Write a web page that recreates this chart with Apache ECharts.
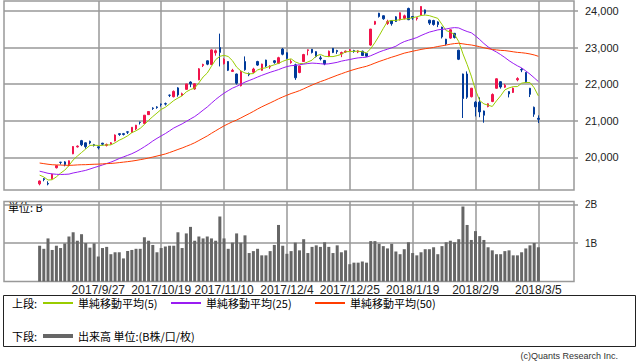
<!DOCTYPE html>
<html><head><meta charset="utf-8">
<script src="https://cdn.jsdelivr.net/npm/echarts@6/dist/echarts.min.js"></script>
<style>html,body{margin:0;padding:0;background:#fff}#c{width:638px;height:362px}</style>
</head><body><div id="c"></div>
<script>
const dates = ["2017/9/6","2017/9/7","2017/9/8","2017/9/11","2017/9/12","2017/9/13","2017/9/14","2017/9/15","2017/9/19","2017/9/20","2017/9/21","2017/9/22","2017/9/25","2017/9/26","2017/9/27","2017/9/28","2017/9/29","2017/10/2","2017/10/3","2017/10/4","2017/10/5","2017/10/6","2017/10/10","2017/10/11","2017/10/12","2017/10/13","2017/10/16","2017/10/17","2017/10/18","2017/10/19","2017/10/20","2017/10/23","2017/10/24","2017/10/25","2017/10/26","2017/10/27","2017/10/30","2017/10/31","2017/11/1","2017/11/2","2017/11/6","2017/11/7","2017/11/8","2017/11/9","2017/11/10","2017/11/13","2017/11/14","2017/11/15","2017/11/16","2017/11/17","2017/11/20","2017/11/21","2017/11/22","2017/11/24","2017/11/27","2017/11/28","2017/11/29","2017/11/30","2017/12/1","2017/12/4","2017/12/5","2017/12/6","2017/12/7","2017/12/8","2017/12/11","2017/12/12","2017/12/13","2017/12/14","2017/12/15","2017/12/18","2017/12/19","2017/12/20","2017/12/21","2017/12/22","2017/12/25","2017/12/26","2017/12/27","2017/12/28","2017/12/29","2018/1/4","2018/1/5","2018/1/9","2018/1/10","2018/1/11","2018/1/12","2018/1/15","2018/1/16","2018/1/17","2018/1/18","2018/1/19","2018/1/22","2018/1/23","2018/1/24","2018/1/25","2018/1/26","2018/1/29","2018/1/30","2018/1/31","2018/2/1","2018/2/2","2018/2/5","2018/2/6","2018/2/7","2018/2/8","2018/2/9","2018/2/13","2018/2/14","2018/2/15","2018/2/16","2018/2/19","2018/2/20","2018/2/21","2018/2/22","2018/2/23","2018/2/26","2018/2/27","2018/2/28","2018/3/1","2018/3/2","2018/3/5"];

const open = [19280,19420,19290,19420,19720,19870,19880,19780,20100,20290,
20460,20400,20440,20350,20290,20390,20330,20370,20450,20650,
20650,20700,20690,20780,20960,20930,21170,21350,21380,21460,
21470,21700,21660,21900,21690,21860,22060,21870,22120,22510,
22640,22540,22860,23000,22560,22620,22350,22280,21960,22620,
22290,22330,22620,22380,22660,22470,22640,22570,22960,22860,
22590,22530,22320,22620,22920,22955,22890,22720,22650,22760,
22980,22920,22830,22880,22920,22920,22880,22900,22840,23070,
23640,23940,23870,23660,23740,23840,23760,23800,24070,23850,
23790,23890,24030,23750,23740,23700,23560,23230,23260,23390,
22930,22280,22280,21660,21510,21510,21270,21390,21530,21890,
22070,21920,21800,21775,22120,22400,22320,21890,21370,21070];

const close = [19358,19397,19275,19546,19777,19866,19807,19910,20299,20310,
20347,20296,20398,20330,20267,20363,20356,20401,20614,20627,
20629,20691,20824,20881,20955,21155,21256,21336,21363,21449,
21458,21697,21805,21708,21740,22008,22012,22012,22420,22539,
22548,22938,22914,22869,22681,22381,22380,22028,22351,22397,
22262,22416,22523,22551,22496,22486,22597,22725,22819,22707,
22622,22177,22498,22811,22939,22866,22758,22694,22553,22902,
22868,22892,22866,22903,22939,22893,22911,22784,22765,23506,
23715,23850,23788,23710,23654,23715,23952,23868,23763,23808,
23816,24124,23941,23669,23632,23629,23292,23098,23486,23275,
22682,21610,21645,21891,21383,21245,21154,21465,21720,22149,
21925,21971,21736,21893,22154,22390,22068,21724,21182,21042];

const low = [19240,19350,19240,19400,19700,19810,19760,19760,20090,20270,
20310,20240,20360,20300,20220,20330,20300,20350,20440,20590,
20600,20640,20670,20750,20900,20910,21160,21300,21330,21390,
21420,21650,21640,21660,21680,21850,21920,21850,22110,22470,
22520,22530,22780,22487,22540,22360,22340,21990,21940,22370,
22220,22300,22500,22370,22470,22420,22560,22550,22790,22680,
22560,22120,22300,22610,22790,22840,22730,22650,22520,22740,
22850,22830,22740,22860,22900,22860,22850,22770,22750,23050,
23620,23820,23760,23620,23600,23700,23740,23770,23750,23760,
23740,23880,23900,23620,23600,23560,23250,23060,23240,23250,
22660,21078,21600,21640,21120,21100,20950,21370,21510,21880,
21880,21900,21640,21760,22080,22330,22040,21650,21110,20940];

const high = [19370,19440,19350,19550,19790,19880,19900,19920,20310,20330,
20480,20410,20460,20370,20300,20400,20380,20420,20630,20660,
20670,20710,20830,20890,20980,21160,21260,21370,21400,21470,
21500,21720,21830,21920,21770,22010,22080,22020,22440,22560,
22650,22950,22950,23382,22710,22630,22420,22290,22380,22760,
22320,22450,22640,22560,22670,22520,22660,22750,22990,22870,
22680,22560,22510,22830,22950,22960,22900,22780,22660,22920,
22990,22940,22890,22920,22960,22940,22930,22920,22850,23510,
23730,23950,23880,23760,23750,23860,23960,23900,24090,23860,
23830,24130,24040,23760,23760,23720,23570,23240,23500,23400,
22940,22290,22350,21900,21540,21640,21280,21480,21750,22160,
22080,22010,21810,21910,22190,22440,22330,21900,21390,21150];

const ma5 = [19518,19468,19385,19392,19471,19572,19654,19781,19932,20038,
20135,20232,20330,20336,20328,20331,20343,20343,20400,20472,
20525,20592,20677,20730,20796,20901,21014,21117,21213,21312,
21372,21461,21554,21623,21682,21792,21855,21896,22038,22198,
22306,22491,22672,22762,22790,22757,22645,22468,22364,22307,
22284,22291,22390,22430,22450,22494,22531,22571,22625,22667,
22694,22610,22565,22563,22609,22658,22774,22814,22762,22755,
22755,22782,22816,22886,22894,22899,22902,22886,22858,22972,
23136,23324,23525,23714,23743,23743,23764,23780,23790,23821,
23841,23876,23890,23872,23836,23799,23633,23464,23427,23356,
23167,22830,22540,22221,21842,21555,21464,21428,21393,21547,
21683,21846,21900,21935,21936,22029,22048,22046,21904,21681];

const ma25 = [19625,19598,19568,19552,19541,19536,19539,19546,19577,19599,
19624,19648,19685,19723,19758,19795,19835,19873,19920,19971,
20016,20058,20103,20158,20221,20293,20367,20450,20522,20589,
20653,20728,20804,20861,20918,20984,21053,21117,21201,21292,
21379,21483,21583,21673,21756,21826,21893,21941,22000,22058,
22102,22148,22196,22243,22285,22326,22362,22399,22444,22482,
22507,22514,22533,22549,22565,22577,22570,22561,22549,22558,
22577,22598,22631,22653,22675,22700,22720,22730,22739,22779,
22828,22879,22921,22957,22995,23038,23109,23164,23202,23237,
23275,23330,23379,23424,23453,23484,23500,23509,23532,23546,
23537,23485,23440,23405,23320,23221,23113,23020,22941,22880,
22809,22730,22644,22570,22503,22446,22364,22275,22176,22072];

const ma50 = [19849,19832,19815,19802,19797,19793,19788,19785,19789,19797,
19802,19804,19810,19815,19818,19825,19832,19837,19847,19860,
19873,19886,19901,19919,19940,19961,19985,20011,20039,20067,
20096,20135,20176,20219,20259,20305,20351,20402,20463,20526,
20588,20660,20729,20797,20863,20920,20975,21022,21079,21139,
21197,21258,21323,21383,21437,21490,21545,21602,21652,21700,
21746,21783,21825,21875,21928,21978,22026,22072,22111,22157,
22201,22245,22286,22327,22366,22401,22434,22463,22491,22532,
22577,22621,22660,22700,22738,22773,22811,22849,22875,22901,
22926,22950,22970,22986,23005,23030,23049,23070,23093,23110,
23119,23103,23085,23072,23050,23025,22996,22971,22949,22938,
22924,22919,22904,22886,22870,22861,22847,22827,22800,22763];

const volume = [0.93,0.85,1.12,0.82,0.93,0.87,0.99,1.17,1.28,1.06,
1.23,1.00,0.88,0.99,0.65,0.87,0.90,0.71,0.76,0.76,
0.60,0.79,0.82,0.85,0.85,1.15,1.06,0.95,0.76,0.87,
0.91,0.93,0.93,1.28,0.87,1.25,1.42,1.06,1.17,1.12,
1.17,1.12,1.06,1.69,1.12,0.85,1.01,1.25,1.01,1.20,
0.74,0.79,0.85,0.68,0.68,0.79,0.95,1.47,0.93,0.72,
0.79,1.01,0.81,1.10,0.74,0.90,0.94,0.90,1.02,0.90,
0.74,0.94,0.76,0.81,0.45,0.49,0.49,0.52,0.49,1.05,
1.05,0.98,0.92,0.86,0.98,0.78,0.71,0.84,1.02,0.74,
0.68,0.76,0.84,0.84,0.89,0.71,0.92,1.02,1.06,1.02,
1.10,1.95,1.47,1.08,1.31,1.18,1.08,0.89,0.81,0.71,
0.71,0.79,0.81,0.68,0.68,0.76,0.86,0.94,1.00,0.89];

const dateTicks = ["2017/9/27","2017/10/19","2017/11/10","2017/12/4","2017/12/25","2018/1/19","2018/2/9","2018/3/5"];
const priceTicks = [20000,21000,22000,23000,24000];
const volumeTicks = [1,2];

const PAD = 8;
const categories = [];
for (let k = 0; k < PAD; k++) categories.push('pre' + k);
dates.forEach(d => categories.push(d));
for (let k = 0; k < PAD; k++) categories.push('post' + k);
const tickSet = new Set(dateTicks);
const onTick = (idx, val) => tickSet.has(val);

const candleData = dates.map((d, i) => [PAD + i, open[i], close[i], low[i], high[i]]);
const pair = arr => arr.map((v, i) => [PAD + i, v]);

const GRID = '#999';
const GW = 1.5;
const UP = '#f0144b', DOWN = '#003a99';
const C5 = '#99cc00', C25 = '#9a1cf2', C50 = '#ff3c00';
const NUMFONT = 'Liberation Sans';
const JPFONT = 'Noto Sans CJK JP';

const legendBase = {
  orient: 'horizontal', padding: 0, itemWidth: 30, itemHeight: 2, icon: 'rect',
  selectedMode: false, itemGap: 0,
  textStyle: { fontFamily: JPFONT, fontSize: 11, color: '#000' }
};

const chart = echarts.init(document.getElementById('c'), null, { renderer: 'svg' });
chart.setOption({
  animation: false,
  backgroundColor: '#fff',
  grid: [
    { left: 4, top: 1, width: 570, height: 189, show: true, borderColor: GRID, borderWidth: GW, backgroundColor: 'transparent', outerBoundsMode: 'none' },
    { left: 4, top: 201.5, width: 570, height: 80, show: true, borderColor: GRID, borderWidth: GW, backgroundColor: 'transparent', outerBoundsMode: 'none' }
  ],
  xAxis: [
    { type: 'category', gridIndex: 0, data: categories, boundaryGap: true,
      axisLine: { show: false }, axisTick: { show: false }, axisLabel: { show: false },
      splitLine: { show: true, interval: onTick, alignWithLabel: true, lineStyle: { color: GRID, width: GW } } },
    { type: 'category', gridIndex: 1, data: categories, boundaryGap: true,
      axisLine: { show: false }, axisTick: { show: false },
      axisLabel: { show: true, interval: onTick, margin: 2, fontFamily: NUMFONT, fontSize: 12, color: '#222' },
      splitLine: { show: true, interval: onTick, alignWithLabel: true, lineStyle: { color: GRID, width: GW } } }
  ],
  yAxis: [
    { type: 'value', gridIndex: 0, position: 'right', min: 19112, max: 24273,
      axisLine: { show: false },
      axisTick: { show: true, length: 4, customValues: priceTicks, lineStyle: { color: GRID, width: GW } },
      axisLabel: { customValues: priceTicks, margin: 11, fontFamily: NUMFONT, fontSize: 11, color: '#222',
        formatter: v => Number(v).toLocaleString('en-US') },
      splitLine: { show: true, lineStyle: { color: GRID, width: GW } } },
    { type: 'value', gridIndex: 1, position: 'right', min: 0, max: 2.08,
      axisLine: { show: false },
      axisTick: { show: true, length: 4, customValues: volumeTicks, lineStyle: { color: GRID, width: GW } },
      axisLabel: { customValues: volumeTicks, margin: 11, fontFamily: NUMFONT, fontSize: 10, color: '#222',
        formatter: v => v + 'B' },
      splitLine: { show: true, lineStyle: { color: GRID, width: GW } } }
  ],
  legend: [
    Object.assign({}, legendBase, { data: ['単純移動平均(5)'], left: 43, top: 297.5 }),
    Object.assign({}, legendBase, { data: ['単純移動平均(25)'], left: 171, top: 297.5 }),
    Object.assign({}, legendBase, { data: ['単純移動平均(50)'], left: 315, top: 297.5 }),
    Object.assign({}, legendBase, { data: ['出来高 単位:(B株/口/枚)'], left: 43, top: 330.5, itemHeight: 4 })
  ],
  graphic: [
    { type: 'rect', shape: { x: 3.5, y: 295.5, width: 632, height: 51 }, style: { fill: 'none', stroke: '#222', lineWidth: 1 }, silent: true },
    { type: 'text', x: 12, y: 303, style: { text: '上段:', font: '11px "Noto Sans CJK JP"', fill: '#000', verticalAlign: 'middle' } },
    { type: 'text', x: 12, y: 336, style: { text: '下段:', font: '11px "Noto Sans CJK JP"', fill: '#000', verticalAlign: 'middle' } },
    { type: 'text', x: 8, y: 207, style: { text: '単位: B', font: '11px "Noto Sans CJK JP"', fill: '#000', verticalAlign: 'middle' } },
    { type: 'text', x: 618, y: 356, style: { text: '(c)Quants Research Inc.', font: '9px "Liberation Sans"', fill: '#333', align: 'right', verticalAlign: 'middle' } }
  ],
  series: [
    { type: 'candlestick', name: '日経平均', xAxisIndex: 0, yAxisIndex: 0, data: candleData,
      encode: { x: 0, y: [1, 2, 3, 4] }, barWidth: 2,
      itemStyle: { color: UP, color0: DOWN, borderColor: UP, borderColor0: DOWN, borderWidth: 1 } },
    { type: 'line', name: '単純移動平均(5)', xAxisIndex: 0, yAxisIndex: 0, data: pair(ma5), showSymbol: false, symbol: 'none',
      lineStyle: { color: C5, width: 1 }, itemStyle: { color: C5 } },
    { type: 'line', name: '単純移動平均(25)', xAxisIndex: 0, yAxisIndex: 0, data: pair(ma25), showSymbol: false, symbol: 'none',
      lineStyle: { color: C25, width: 1 }, itemStyle: { color: C25 } },
    { type: 'line', name: '単純移動平均(50)', xAxisIndex: 0, yAxisIndex: 0, data: pair(ma50), showSymbol: false, symbol: 'none',
      lineStyle: { color: C50, width: 1 }, itemStyle: { color: C50 } },
    { type: 'bar', name: '出来高 単位:(B株/口/枚)', xAxisIndex: 1, yAxisIndex: 1, data: pair(volume), barWidth: 3,
      itemStyle: { color: '#666' } }
  ]
});
</script>
</body></html>
